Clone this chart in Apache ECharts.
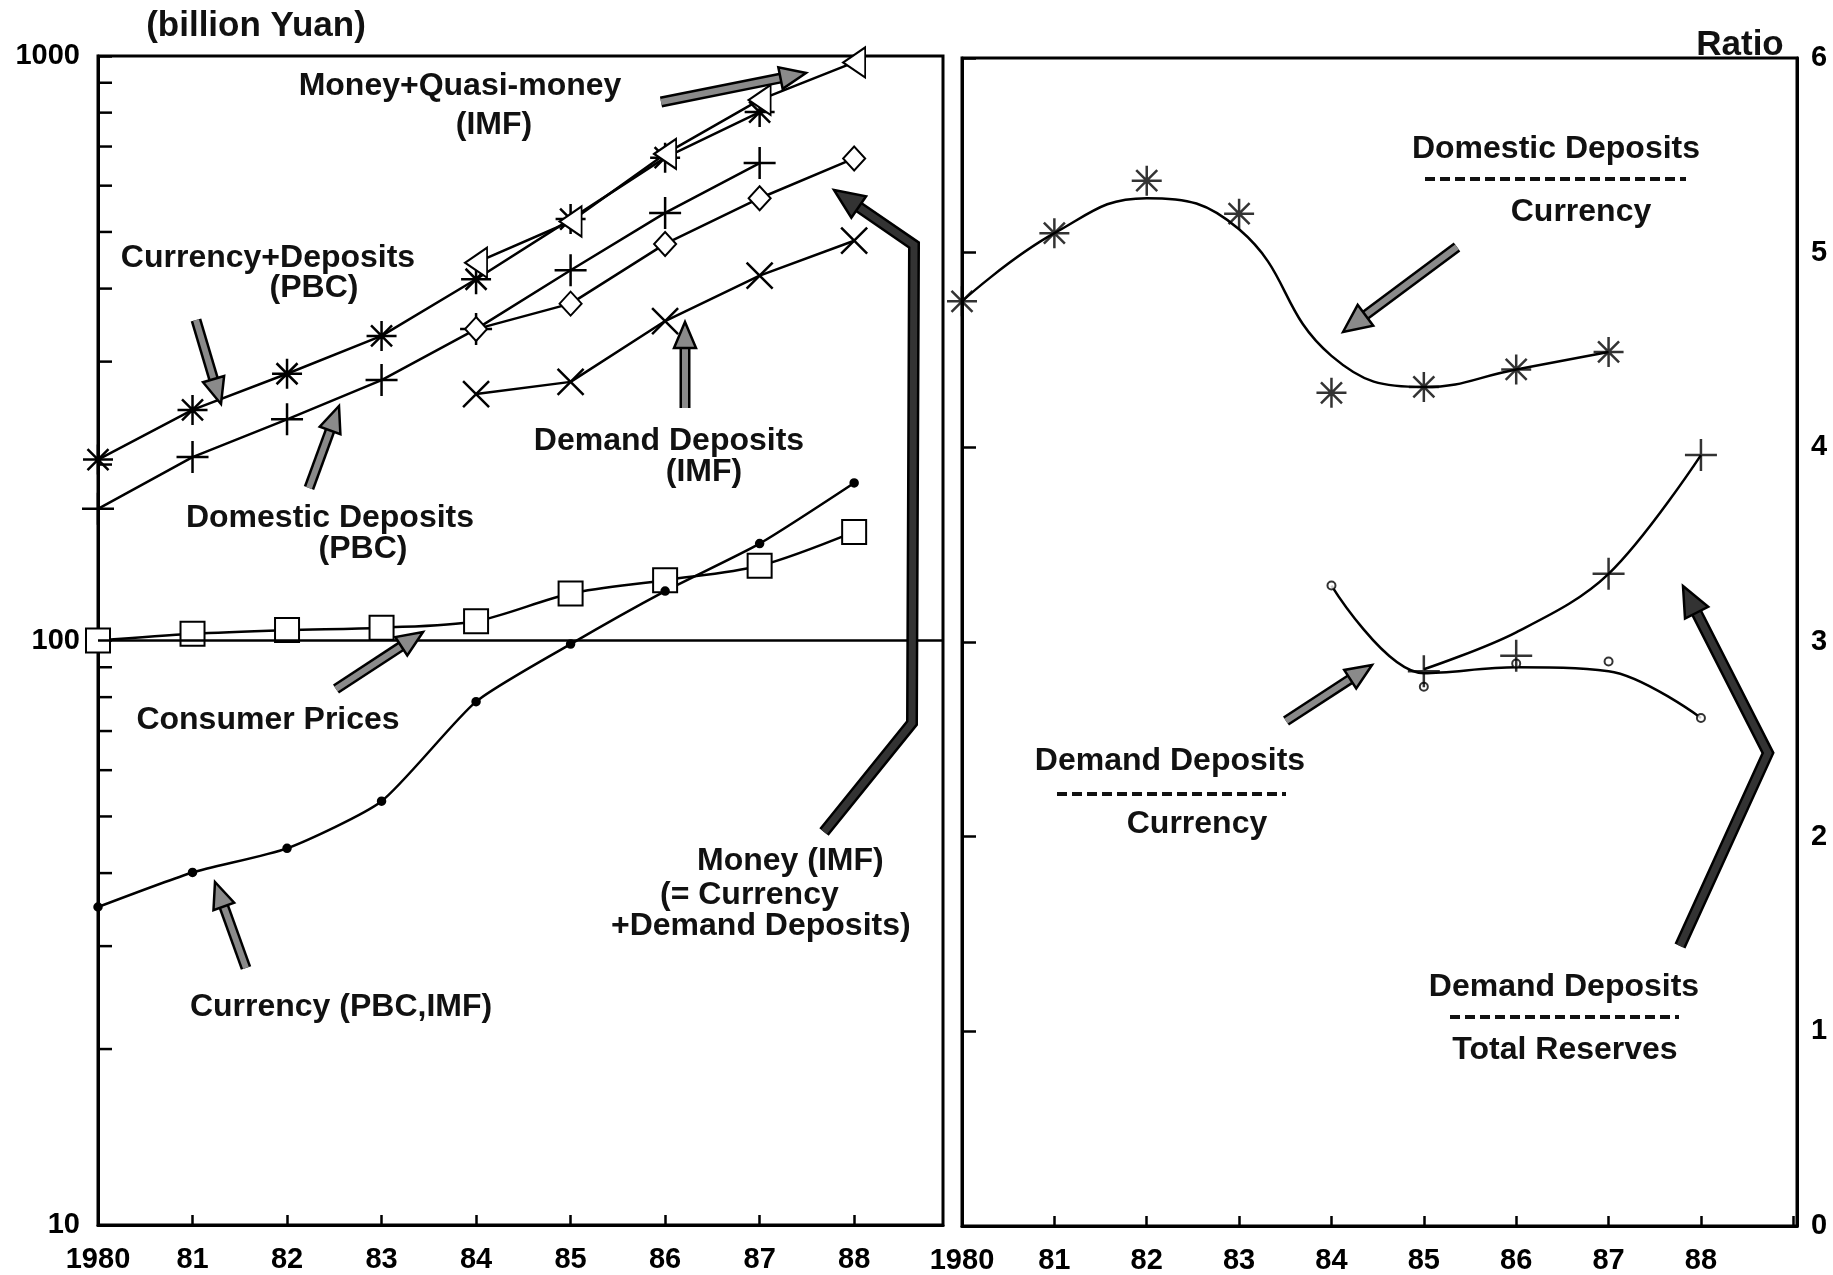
<!DOCTYPE html>
<html>
<head>
<meta charset="utf-8">
<title>China money and deposits, 1980-88</title>
<script src="https://cdn.jsdelivr.net/npm/echarts/dist/echarts.min.js"></script>
<style>
  html, body { margin: 0; padding: 0; background: #fff; }
  #chart { width: 1833px; height: 1275px; }
</style>
</head>
<body>
<div id="chart"></div>
<script>
  // ---- data ----
  var years = [1980, 1981, 1982, 1983, 1984, 1985, 1986, 1987, 1988];
  var years80to87 = years.slice(0, 8);
  var years84to88 = years.slice(4);
  var years85to88 = years.slice(5);

  // left panel, billion yuan (log scale)
  var currencyPlusDeposits = [204, 248, 286, 332, 415, 526, 670, 802];   // 1980-87, PBC
  var domesticDeposits = [168, 206, 239, 279, 341, 430, 539, 656];       // 1980-87, PBC
  var moneyQuasiMoney = [443, 521, 680, 841, 975];                       // 1984-88, IMF
  var moneyIMF = [341, 377, 477, 571, 668];                              // 1984-88, IMF
  var demandDeposits = [264, 277, 352, 421, 483];                        // 1984-88, IMF
  var consumerPrices = [100, 102.7, 104.2, 105.2, 107.9, 120.3, 126.8, 134.2, 153.4];
  var currency = [35.0, 40.1, 44.1, 53.1, 78.6, 98.6, 121.5, 146.5, 186];

  // right panel, ratios (points and the fitted curves drawn through them)
  var domDepCurrencyPts = [4.75, 5.10, 5.37, 5.20, 4.28, 4.31, 4.40, 4.49];   // 1980-87
  var domDepCurrencyCurve = [4.75, 5.10, 5.28, 5.12, 4.47, 4.31, 4.40, 4.49];
  var ddCurrencyPts = [3.29, 2.77, 2.89, 2.90, 2.61];                         // 1984-88
  var ddCurrencyCurve = [3.29, 2.84, 2.87, 2.85, 2.61];
  var ddReservesPts = [2.85, 2.93, 3.35, 3.96];                               // 1985-88
  var ddReservesCurve = [2.86, 3.05, 3.35, 3.96];

  var logMinorTicks = [20, 30, 40, 50, 60, 70, 80, 90, 200, 300, 400, 500, 600, 700, 800, 900];

  var FONT = '"Liberation Sans", Arial, sans-serif';
  var ASTER = 'path://M10 0L10 20M0 10L20 10M3 3L17 17M3 17L17 3';
  var PLUS = 'path://M10 0L10 20M0 10L20 10';
  var CROSS = 'path://M0 0L20 20M0 20L20 0';

  function pairs(xs, ys) {
    return ys.map(function (v, i) { return [xs[i], v]; });
  }

  // 1980, 81, ... 88; nothing at the axis end
  function yearLabel(v) {
    if (Math.abs(v - Math.round(v)) > 1e-6 || v > 1988) return '';
    return v === 1980 ? '1980' : String(v).slice(2);
  }

  function lineSeries(name, data, symbol, size, axis, extra) {
    var s = {
      name: name,
      type: 'line',
      xAxisIndex: axis,
      yAxisIndex: axis,
      data: data,
      symbol: symbol,
      symbolSize: size,
      showAllSymbol: true,
      lineStyle: { color: '#000', width: 2.5 },
      itemStyle: { color: '#000', borderColor: '#000', borderWidth: 2.5 },
      emphasis: { disabled: true },
      animation: false
    };
    for (var k in extra) s[k] = extra[k];
    return s;
  }

  var myChart = echarts.init(document.getElementById('chart'));

  var axisLine = { show: true, lineStyle: { color: '#000', width: 3 } };
  var tickLabel = { color: '#000', fontSize: 29, fontWeight: 'bold', fontFamily: FONT };

  var option = {
    backgroundColor: '#fff',
    animation: false,
    grid: [
      { left: 98, top: 56, width: 845, height: 1169, show: true, borderColor: '#000', borderWidth: 3 },
      { left: 962, top: 58, width: 835, height: 1170, show: true, borderColor: '#000', borderWidth: 3 }
    ],
    xAxis: [
      {
        gridIndex: 0, type: 'value', min: 1980, max: 1988.94, interval: 1,
        axisLine: axisLine,
        axisTick: { inside: true, length: 10, lineStyle: { color: '#000', width: 2.5 } },
        axisLabel: Object.assign({ margin: 20, formatter: yearLabel, showMaxLabel: false }, tickLabel),
        splitLine: { show: false }
      },
      {
        gridIndex: 1, type: 'value', min: 1980, max: 1989.04, interval: 1,
        axisLine: axisLine,
        axisTick: { inside: true, length: 10, lineStyle: { color: '#000', width: 2.5 } },
        axisLabel: Object.assign({ margin: 20, formatter: yearLabel, showMaxLabel: false }, tickLabel),
        splitLine: { show: false }
      }
    ],
    yAxis: [
      {
        gridIndex: 0, type: 'log', logBase: 10, min: 10, max: 1000,
        axisLine: axisLine,
        axisTick: { inside: true, length: 14, lineStyle: { color: '#000', width: 2.5 } },
        axisLabel: Object.assign({ margin: 18, formatter: function (v) { return String(Math.round(v)); } }, tickLabel),
        splitLine: { show: false }
      },
      {
        gridIndex: 1, type: 'value', min: 0, max: 6, interval: 1, position: 'right',
        axisLine: axisLine,
        axisTick: { show: false },
        axisLabel: Object.assign({ margin: 14 }, tickLabel),
        splitLine: { show: false }
      },
      {
        gridIndex: 1, type: 'value', min: 0, max: 6, interval: 1, position: 'left',
        axisLine: axisLine,
        axisTick: { inside: true, length: 14, lineStyle: { color: '#000', width: 2.5 } },
        axisLabel: { show: false },
        splitLine: { show: false }
      }
    ],
    series: [
      lineSeries('Currency+Deposits (PBC)', pairs(years80to87, currencyPlusDeposits), ASTER, 30, 0),
      lineSeries('Domestic Deposits (PBC)', pairs(years80to87, domesticDeposits), PLUS, 32, 0),
      lineSeries('Money+Quasi-money (IMF)', pairs(years84to88, moneyQuasiMoney), 'emptyTriangle', [30, 22], 0,
        { symbolRotate: 90 }),
      lineSeries('Money (IMF)', pairs(years84to88, moneyIMF), 'emptyDiamond', [22, 24], 0),
      lineSeries('Demand Deposits (IMF)', pairs(years84to88, demandDeposits), CROSS, 26, 0),
      lineSeries('Consumer Prices', pairs(years, consumerPrices), 'emptyRect', 24, 0, {
        smooth: 0.3,
        markLine: {
          silent: true, symbol: ['none', 'none'], label: { show: false },
          lineStyle: { color: '#000', width: 2.5, type: 'solid' },
          data: [{ yAxis: 100 }]
        }
      }),
      lineSeries('Currency (PBC,IMF)', pairs(years, currency), 'circle', 7, 0, { smooth: 0.2 }),

      // right panel: fitted curves
      lineSeries('Domestic Deposits / Currency curve', pairs(years80to87, domDepCurrencyCurve), 'none', 0, 1,
        { smooth: 0.45, yAxisIndex: 1 }),
      lineSeries('Demand Deposits / Currency curve', pairs(years84to88, ddCurrencyCurve), 'none', 0, 1,
        { smooth: 0.35, yAxisIndex: 1 }),
      lineSeries('Demand Deposits / Total Reserves curve', pairs(years85to88, ddReservesCurve), 'none', 0, 1,
        { smooth: 0.35, yAxisIndex: 1 }),
      // right panel: points
      { name: 'Domestic Deposits / Currency', type: 'scatter', xAxisIndex: 1, yAxisIndex: 1,
        data: pairs(years80to87, domDepCurrencyPts), symbol: ASTER, symbolSize: 30,
        itemStyle: { color: '#000', borderColor: '#000', borderWidth: 2.5 }, z: 5 },
      { name: 'Demand Deposits / Currency', type: 'scatter', xAxisIndex: 1, yAxisIndex: 1,
        data: pairs(years84to88, ddCurrencyPts), symbol: 'emptyCircle', symbolSize: 8,
        itemStyle: { color: '#000', borderColor: '#000', borderWidth: 2.5 }, z: 5 },
      { name: 'Demand Deposits / Total Reserves', type: 'scatter', xAxisIndex: 1, yAxisIndex: 1,
        data: pairs(years85to88, ddReservesPts), symbol: PLUS, symbolSize: 32,
        itemStyle: { color: '#000', borderColor: '#000', borderWidth: 2.5 }, z: 5 }
    ]
  };

  myChart.setOption(option);

  // ---- annotations ----
  var graphics = [];

  function label(text, x, y, size, align) {
    graphics.push({
      type: 'text', x: x, y: y, z: 50, silent: true,
      style: {
        text: text, font: 'bold ' + (size || 32) + 'px ' + FONT, fill: '#111',
        align: align || 'center', textAlign: align || 'center',
        verticalAlign: 'middle', textVerticalAlign: 'middle'
      }
    });
  }

  function dashed(x1, x2, y) {
    graphics.push({
      type: 'line', z: 50, silent: true,
      shape: { x1: x1, y1: y, x2: x2, y2: y },
      style: { stroke: '#111', lineWidth: 4, lineDash: [10, 5] }
    });
  }

  // arrow drawn along pts, last point is the head
  function arrow(pts, w, fill, headLen, headW) {
    var n = pts.length;
    var hx = pts[n - 1][0], hy = pts[n - 1][1];
    var dx = hx - pts[n - 2][0], dy = hy - pts[n - 2][1];
    var len = Math.sqrt(dx * dx + dy * dy);
    var ux = dx / len, uy = dy / len;
    var bx = hx - ux * headLen, by = hy - uy * headLen;
    var shaft = pts.slice(0, n - 1).concat([[bx + ux * 2, by + uy * 2]]);
    graphics.push({ type: 'polyline', z: 40, silent: true, shape: { points: shaft },
      style: { stroke: '#000', lineWidth: w, fill: null, lineJoin: 'miter' } });
    graphics.push({ type: 'polyline', z: 41, silent: true, shape: { points: shaft },
      style: { stroke: fill, lineWidth: w - 5, fill: null, lineJoin: 'miter' } });
    graphics.push({ type: 'polygon', z: 42, silent: true,
      shape: { points: [[hx, hy], [bx - uy * headW, by + ux * headW], [bx + uy * headW, by - ux * headW]] },
      style: { fill: fill, stroke: '#000', lineWidth: 2.5 } });
  }

  label('(billion Yuan)', 256, 26, 35);
  label('Ratio', 1740, 45, 35);

  label('Money+Quasi-money', 460, 86);
  label('(IMF)', 494, 125);
  label('Currency+Deposits', 268, 258);
  label('(PBC)', 314, 288);
  label('Domestic Deposits', 330, 518);
  label('(PBC)', 363, 549);
  label('Demand Deposits', 669, 441);
  label('(IMF)', 704, 472);
  label('Consumer Prices', 268, 720);
  label('Money (IMF)', 697, 861, 32, 'left');
  label('(= Currency', 660, 895, 32, 'left');
  label('+Demand Deposits)', 611, 926, 32, 'left');
  label('Currency (PBC,IMF)', 341, 1007);

  label('Domestic Deposits', 1556, 149);
  dashed(1425, 1686, 179);
  label('Currency', 1581, 212);
  label('Demand Deposits', 1170, 761);
  dashed(1057, 1286, 794);
  label('Currency', 1197, 824);
  label('Demand Deposits', 1564, 987);
  dashed(1450, 1679, 1017);
  label('Total Reserves', 1565, 1050);

  var GRAY = '#8a8a8a';
  arrow([[661, 102], [806, 73]], 11, GRAY, 26, 11);
  arrow([[196, 320], [221, 404]], 11, GRAY, 26, 11);
  arrow([[309, 488], [339, 406]], 11, GRAY, 26, 11);
  arrow([[685, 408], [685, 322]], 11, GRAY, 26, 11);
  arrow([[336, 689], [423, 632]], 11, GRAY, 26, 11);
  arrow([[246, 968], [215, 882]], 11, GRAY, 26, 11);
  arrow([[824, 832], [912, 723], [914, 245], [834, 190]], 12, '#333', 30, 13);
  arrow([[1457, 247], [1343, 332]], 11, GRAY, 28, 13);
  arrow([[1286, 721], [1372, 665]], 11, GRAY, 26, 11);
  arrow([[1680, 946], [1768, 753], [1683, 586]], 12, '#333', 30, 13);

  // log minor ticks, placed through the axis scale
  logMinorTicks.forEach(function (v) {
    var p = myChart.convertToPixel({ xAxisIndex: 0, yAxisIndex: 0 }, [1980, v]);
    graphics.push({
      type: 'line', z: 30, silent: true,
      shape: { x1: p[0], y1: p[1], x2: p[0] + 14, y2: p[1] },
      style: { stroke: '#000', lineWidth: 2.5 }
    });
  });

  myChart.setOption({ graphic: graphics });
</script>
</body>
</html>
